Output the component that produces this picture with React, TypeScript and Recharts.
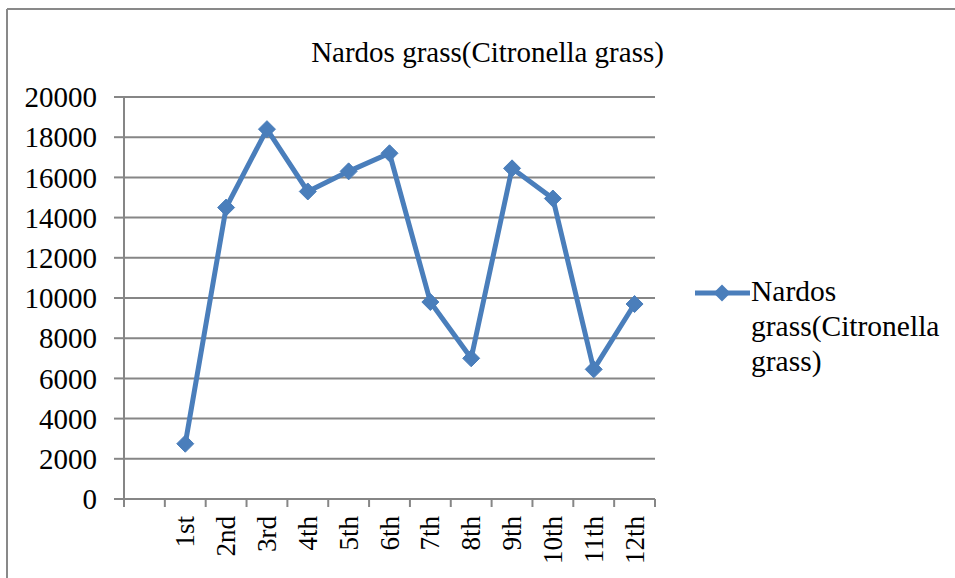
import React from 'react';
import { LineChart, Line, XAxis, YAxis, CartesianGrid, Legend } from 'recharts';

const categories = ['', '1st', '2nd', '3rd', '4th', '5th', '6th', '7th', '8th', '9th', '10th', '11th', '12th'];
const values: (number | null)[] = [null, 2750, 14500, 18400, 15300, 16300, 17200, 9800, 7000, 16450, 14950, 6450, 9700];
const yTicks = [0, 2000, 4000, 6000, 8000, 10000, 12000, 14000, 16000, 18000, 20000];
const seriesName = 'Nardos grass(Citronella grass)';

const data = categories.map((c, i) => ({ cat: c, v: values[i] }));

const W = 955;
const H = 578;
const M = { top: 97, right: 300, bottom: 0, left: 14 };
const Y_W = 110;
const X_H = 79;
const PLOT_W = W - M.left - Y_W - M.right;
const BW = PLOT_W / categories.length;

const BLUE = '#4A7EBB';
const GRID = '#868686';
const FONT = "'Liberation Serif', 'Times New Roman', serif";

const Diamond = (props: any) => {
  const { cx, cy, value } = props;
  if (cx == null || cy == null || value == null) return <g key={props.key} />;
  const r = 8.5;
  return (
    <polygon
      key={props.key}
      points={`${cx},${cy - r} ${cx + r},${cy} ${cx},${cy + r} ${cx - r},${cy}`}
      fill={BLUE}
      stroke={BLUE}
      strokeWidth={1}
    />
  );
};

const XTick = (props: any) => {
  const { x, y, payload, index } = props;
  const last = index === categories.length - 1;
  return (
    <g transform={`translate(${x},${y})`}>
      <line x1={-BW / 2} y1={0} x2={-BW / 2} y2={8} stroke={GRID} strokeWidth={2} />
      {last && <line x1={BW / 2} y1={0} x2={BW / 2} y2={8} stroke={GRID} strokeWidth={2} />}
      <text
        transform={`translate(9,17) rotate(-90)`}
        textAnchor="end"
        style={{ fontFamily: FONT, fontSize: 27 }}
        fill="#000"
      >
        {payload.value}
      </text>
    </g>
  );
};

const YTick = (props: any) => {
  const { x, y, payload } = props;
  return (
    <text x={x} y={y} dy="0.355em" textAnchor="end" style={{ fontFamily: FONT, fontSize: 29 }} fill="#000">
      {payload.value}
    </text>
  );
};

const LegendContent = () => (
  <div style={{ display: 'flex', alignItems: 'flex-start', fontFamily: FONT, fontSize: 29.5, color: '#000' }}>
    <svg width={57} height={30} style={{ flex: 'none', marginTop: 6 }}>
      <line x1={1} y1={15} x2={56} y2={15} stroke={BLUE} strokeWidth={5} />
      <polygon points="28,6.5 36.5,15 28,23.5 19.5,15" fill={BLUE} />
    </svg>
    <div style={{ width: 200, lineHeight: '35px', fontFamily: FONT, marginTop: 2 }}>
      Nardos
      <br />
      grass(Citronella
      <br />
      grass)
    </div>
  </div>
);

export default function App() {
  return (
    <div
      style={{
        position: 'absolute',
        left: 0,
        top: 0,
        width: W,
        height: H,
        overflow: 'hidden',
        background: '#fff',
        fontFamily: FONT,
      }}
    >
      <LineChart width={W} height={H} data={data} margin={M}>
        <CartesianGrid horizontal vertical={false} stroke={GRID} strokeWidth={2} />
        <XAxis
          dataKey="cat"
          scale="band"
          height={X_H}
          interval={0}
          tickLine={false}
          tickSize={0}
          tickMargin={0}
          axisLine={{ stroke: GRID, strokeWidth: 2 }}
          tick={<XTick />}
        />
        <YAxis
          width={Y_W}
          domain={[0, 20000]}
          ticks={yTicks}
          interval={0}
          tickSize={10}
          tickMargin={17}
          tickLine={{ stroke: GRID, strokeWidth: 2 }}
          axisLine={{ stroke: GRID, strokeWidth: 2 }}
          tick={<YTick />}
        />
        <Legend
          layout="vertical"
          align="center"
          verticalAlign="middle"
          content={<LegendContent />}
          wrapperStyle={{ left: 694, top: 272, width: 260 }}
        />
        <Line
          type="linear"
          dataKey="v"
          name={seriesName}
          stroke={BLUE}
          strokeWidth={5}
          dot={Diamond}
          activeDot={false}
          connectNulls={false}
          isAnimationActive={false}
        />
      </LineChart>
      <svg
        width={W}
        height={H}
        style={{ position: 'absolute', left: 0, top: 0, pointerEvents: 'none' }}
      >
        <line x1={7} y1={9} x2={W + 5} y2={9} stroke="#898989" strokeWidth={2} />
        <line x1={7} y1={9} x2={7} y2={H + 5} stroke="#898989" strokeWidth={2} />
        <text x={487.5} y={62} textAnchor="middle" style={{ fontFamily: FONT, fontSize: 29 }} fill="#000">
          {seriesName}
        </text>
      </svg>
    </div>
  );
}
